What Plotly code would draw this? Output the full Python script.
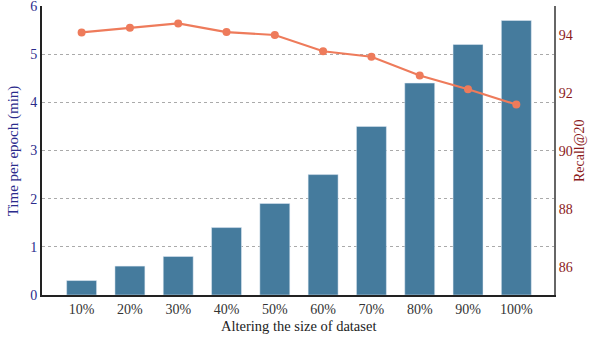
import plotly.graph_objects as go

categories = ["10%", "20%", "30%", "40%", "50%", "60%", "70%", "80%", "90%", "100%"]
time_per_epoch = [0.3, 0.6, 0.8, 1.4, 1.9, 2.5, 3.5, 4.4, 5.2, 5.7]
recall20 = [94.09, 94.25, 94.4, 94.1, 94.0, 93.44, 93.25, 92.6, 92.13, 91.6]
left_ticks = [0, 1, 2, 3, 4, 5, 6]
right_ticks = [86, 88, 90, 92, 94]

FONT = "Liberation Serif"
BLUE = "#2b2b8c"
RED = "#8b1a1a"

fig = go.Figure()
fig.add_trace(go.Bar(
    x=categories, y=time_per_epoch, marker_color="#457b9d",
    width=0.62, yaxis="y", showlegend=False,
))
fig.add_trace(go.Scatter(
    x=categories, y=recall20, mode="lines+markers", yaxis="y2",
    line=dict(color="#ee7b5b", width=2.2), marker=dict(color="#ee7b5b", size=8),
    showlegend=False,
))

fig.update_layout(
    width=595, height=337,
    margin=dict(l=42, r=41, t=6, b=42, autoexpand=False),
    paper_bgcolor="white", plot_bgcolor="white",
    font=dict(family=FONT, size=14, color="#222222"),
    xaxis=dict(
        range=[-0.82, 9.78], showgrid=False, ticks="", showline=True,
        linecolor="#222222", linewidth=2, automargin=False,
        tickfont=dict(family=FONT, size=14, color="#333333"),
    ),
    yaxis=dict(
        range=[0, 6], tickvals=left_ticks, showline=True, linecolor="#222222", linewidth=2,
        showgrid=True, gridcolor="#aaaaaa", griddash="dot", gridwidth=1, zeroline=False,
        tickfont=dict(family=FONT, size=14, color=BLUE), ticks="", automargin=False,
        ticklabeloverflow="allow",
    ),
    yaxis2=dict(
        range=[85.03, 95.0], tickvals=right_ticks, overlaying="y", side="right",
        showline=True, linecolor="#666666", linewidth=2, showgrid=False, zeroline=False,
        tickfont=dict(family=FONT, size=14, color=RED), ticks="", automargin=False,
        ticklabeloverflow="allow",
    ),
    annotations=[
        dict(text="Altering the size of dataset", xref="paper", yref="paper",
             x=0.5, y=-0.107, xanchor="center", yanchor="middle", showarrow=False,
             font=dict(family=FONT, size=14.5, color="#222222")),
        dict(text="Time per epoch (min)", xref="paper", yref="paper",
             x=-0.055, y=0.5, xanchor="center", yanchor="middle", showarrow=False,
             textangle=-90, font=dict(family=FONT, size=15, color=BLUE)),
        dict(text="Recall@20", xref="paper", yref="paper",
             x=1.05, y=0.5, xanchor="center", yanchor="middle", showarrow=False,
             textangle=-90, font=dict(family=FONT, size=14, color=RED)),
    ],
)

fig.write_html("out.html", config={"displayModeBar": False},
               post_script="document.body.style.margin='0';")
